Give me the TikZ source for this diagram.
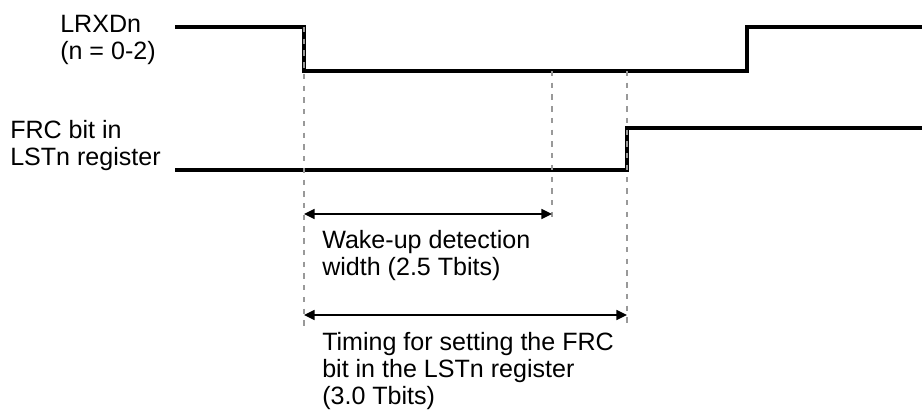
\documentclass[tikz,border=0pt]{standalone}
\usepackage{fontspec}
\setmainfont{Liberation Sans}
\usetikzlibrary{arrows.meta,positioning}
\begin{document}
\begin{tikzpicture}[x=0.75pt,y=-0.75pt,every node/.style={font=\fontsize{18.8}{20}\selectfont,inner sep=0pt},
 lbl/.style={anchor=base west,align=left},
 wave/.style={line width=2.3pt},
 guide/.style={draw=black!40,line width=2.1pt,dash pattern=on 4pt off 4.8pt},
 arr/.style={{Triangle[length=8pt,width=7.5pt]}-{Triangle[length=8pt,width=7.5pt]},line width=1.2pt}]
\useasboundingbox (0,0) rectangle (922,412);
\coordinate (rxS) at (175,27); \coordinate (rxF) at (304,27); \coordinate (rxL) at (304,71);
\coordinate (rxW) at (552,71); \coordinate (rxR) at (627,71); \coordinate (rxU) at (747,71);
\coordinate (rxE) at (922,27);
\coordinate (frS) at (175,170); \coordinate (frU) at (627,170); \coordinate (frE) at (922,128);
\coordinate (gA) at (304,332); \coordinate (gW) at (552,223); \coordinate (gR) at (627,324);
% labels: base = last line
\node[lbl] (rxd) at (60,59) {LRXDn\\(n = 0-2)};
\node[lbl] (frc) at (10,165) {FRC bit in\\LSTn register};
\draw[wave] (rxS)--(rxF)--(rxL)--(rxU)|-(rxE);
\draw[wave] (frS)--(frU)|-(frE);
\draw[guide] (rxF)--(gA); \draw[guide] (rxW)--(gW); \draw[guide] (rxR)--(gR);
\draw[arr] (rxF|-0,214)--(gW|-0,214);
\draw[arr] (rxF|-0,315)--(gR|-0,315);
\node[lbl] (wake) at (322,275) {Wake-up detection\\width (2.5 Tbits)};
\node[lbl] (tim) at (322,404) {Timing for setting the FRC\\bit in the LSTn register\\(3.0 Tbits)};
\end{tikzpicture}
\end{document}
